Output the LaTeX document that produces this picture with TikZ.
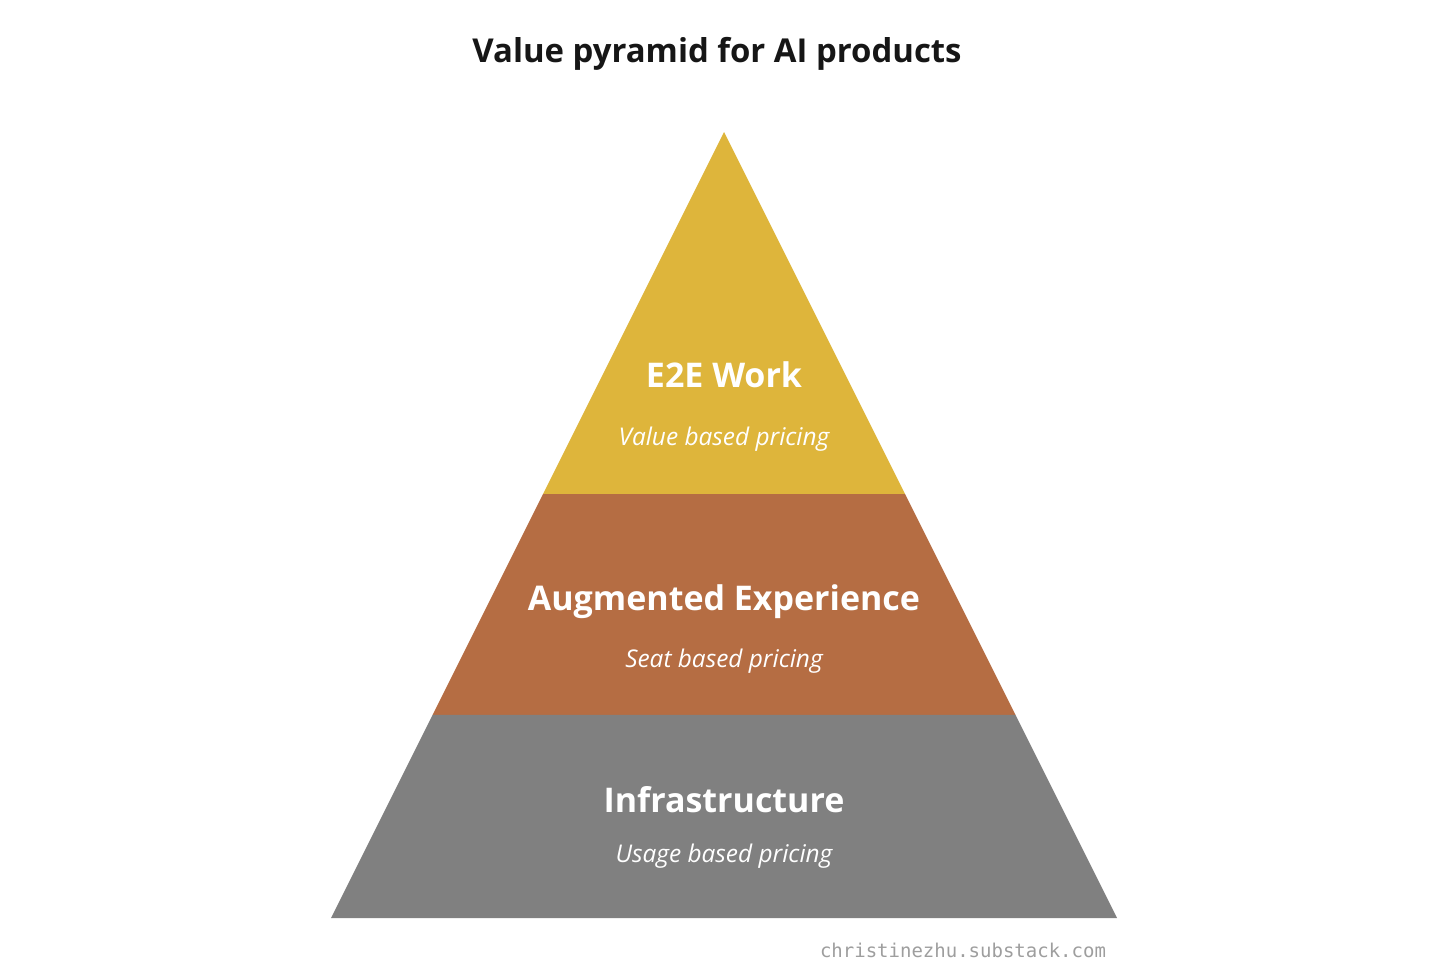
\documentclass[tikz,border=0pt]{standalone}
\usepackage{fontspec}
\setmainfont{Open Sans}
\setmonofont{DejaVu Sans Mono}
\usepackage{tikz}
\usetikzlibrary{positioning, calc}
\usepackage{xcolor}
\definecolor{layertop}{HTML}{DEB53B}
\definecolor{layermid}{HTML}{B56D43}
\definecolor{layerbot}{HTML}{808080}
\definecolor{titleink}{HTML}{161616}
\definecolor{markink}{HTML}{9E9E9E}
\tikzstyle{layer} = [draw=none]
\tikzstyle{heading} = [anchor=base, text=white, font=\fontsize{34}{40}\selectfont\bfseries, inner sep=0pt]
\tikzstyle{pricing} = [anchor=base, text=white, font=\fontsize{24.4}{29}\selectfont\itshape, inner sep=0pt]

\begin{document}
\begin{tikzpicture}[x=1pt, y=-1pt]
                \useasboundingbox (0,0) rectangle (1456,975);

                % Corner points
                \coordinate (apex) at (724,132);
                \coordinate (baseL) at (331,918);
                \coordinate (baseR) at (1117,918);
                \coordinate (cutAL) at ($(apex)!0.4606!(baseL)$);
                \coordinate (cutAR) at ($(apex)!0.4606!(baseR)$);
                \coordinate (cutBL) at ($(apex)!0.7417!(baseL)$);
                \coordinate (cutBR) at ($(apex)!0.7417!(baseR)$);

                % Create Layers
                \fill [layer, layertop] (apex) -- (cutAR) -- (cutAL) -- cycle;
                \fill [layer, layermid] (cutAL) -- (cutAR) -- (cutBR) -- (cutBL) -- cycle;
                \fill [layer, layerbot] (cutBL) -- (cutBR) -- (baseR) -- (baseL) -- cycle;

                % Add Labels
                \node [anchor=base, inner sep=0pt, text=titleink, font=\fontsize{32.9}{38}\selectfont\bfseries] (title) at (717,62) {Value pyramid for AI products};
                \node [heading] (work) at (724,387) {E2E Work};
                \node [pricing] (workprice) at (724,445) {Value based pricing};
                \node [heading] (augment) at (724,610) {Augmented Experience};
                \node [pricing] (augmentprice) at (724,667) {Seat based pricing};
                \node [heading] (infra) at (724,812) {Infrastructure};
                \node [pricing] (infraprice) at (724,862) {Usage based pricing};
                \node [anchor=base, inner sep=0pt, text=markink, font=\fontsize{19}{22}\selectfont\ttfamily] (mark) at (963,957) {christinezhu.substack.com};
            \end{tikzpicture}
\end{document}
